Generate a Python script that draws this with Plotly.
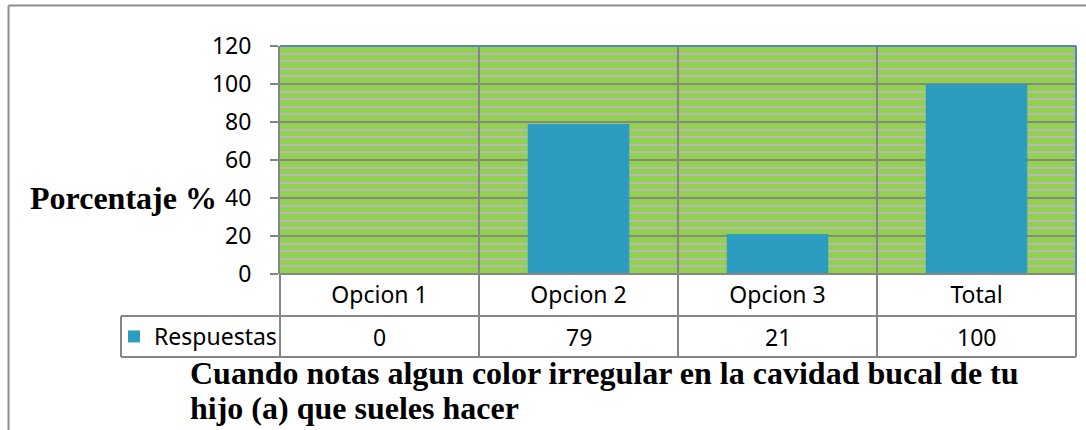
import plotly.graph_objects as go

categories = ["Opcion 1", "Opcion 2", "Opcion 3", "Total"]
values = [0, 79, 21, 100]
series_name = "Respuestas"
y_ticks = [0, 20, 40, 60, 80, 100, 120]
title_lines = ["Cuando notas algun color irregular en la cavidad bucal de tu",
               "hijo (a) que sueles hacer"]
y_title = "Porcentaje %"

W, H = 1086, 430
L, R, T, B = 280, 10, 46, 156
pw, ph = W - L - R, H - T - B

def px_x(px):
    return (px - L) / pw

def px_y(py):
    return (H - B - py) / ph

GRID = "#868686"
SANS = "Noto Sans, Open Sans, sans-serif"
SERIF = "Liberation Serif, Times New Roman, serif"

fig = go.Figure()
fig.add_trace(go.Bar(
    x=categories, y=values, name=series_name,
    marker=dict(color="#2d9cc1", line=dict(width=0)),
    width=0.51, showlegend=True,
))

n = len(categories)
shapes = []
for k in range(n + 1):
    shapes.append(dict(type="line", xref="paper", yref="paper",
                       x0=k / n, x1=k / n, y0=px_y(357), y1=0,
                       line=dict(color=GRID, width=2)))
for py in (316, 357):
    shapes.append(dict(type="line", xref="paper", yref="paper",
                       x0=px_x(121), x1=1, y0=px_y(py), y1=px_y(py),
                       line=dict(color=GRID, width=2)))
shapes.append(dict(type="line", xref="paper", yref="paper",
                   x0=px_x(121), x1=px_x(121), y0=px_y(316), y1=px_y(357),
                   line=dict(color=GRID, width=2)))
shapes.append(dict(type="line", xref="paper", yref="paper", x0=0, x1=1, y0=1, y1=1,
                   line=dict(color="#5b80be", width=2)))
shapes.append(dict(type="line", xref="paper", yref="paper", x0=1, x1=1, y0=0, y1=1,
                   line=dict(color="#5b80be", width=2)))
shapes.append(dict(type="line", xref="paper", yref="paper", x0=0, x1=1, y0=0, y1=0,
                   line=dict(color=GRID, width=2)))
shapes.append(dict(type="line", xref="paper", yref="paper",
                   x0=px_x(8.5), x1=px_x(8.5), y0=px_y(432), y1=px_y(5.5),
                   line=dict(color="#8c8c8c", width=2)))
shapes.append(dict(type="line", xref="paper", yref="paper",
                   x0=px_x(8.5), x1=px_x(1090), y0=px_y(5.5), y1=px_y(5.5),
                   line=dict(color="#8c8c8c", width=2)))

annotations = []
for c, v in zip(categories, values):
    annotations.append(dict(x=c, xref="x", y=px_y(336.5), yref="paper",
                            text=str(v), showarrow=False,
                            font=dict(family=SANS, size=23, color="black"),
                            xanchor="center", yanchor="middle"))
annotations.append(dict(x=px_x(219), xref="paper", y=40, yref="y",
                        text="<b>" + y_title + "</b>", showarrow=False,
                        font=dict(family=SERIF, size=32, color="black"),
                        xanchor="right", yanchor="middle"))
for line_text, cy in zip(title_lines, (373, 408)):
    annotations.append(dict(x=px_x(188), xref="paper", y=px_y(cy), yref="paper",
                            text="<b>" + line_text + "</b>",
                            showarrow=False, align="left",
                            font=dict(family=SERIF, size=32, color="black"),
                            xanchor="left", yanchor="middle"))

fig.update_layout(
    width=W, height=H,
    margin=dict(l=L, r=R, t=T, b=B, pad=0),
    paper_bgcolor="white", plot_bgcolor="#92d050",
    bargap=0.49,
    shapes=shapes, annotations=annotations,
    showlegend=True,
    legend=dict(x=px_x(114), xanchor="left", y=px_y(336.5), yanchor="middle",
                font=dict(family=SANS, size=23, color="black"),
                bgcolor="rgba(0,0,0,0)", borderwidth=0,
                itemwidth=30),
    xaxis=dict(type="category", tickson="boundaries", showgrid=True,
               gridcolor=GRID, gridwidth=2, ticks="", showline=False,
               tickfont=dict(family=SANS, size=23, color="black"),
               ticklabelstandoff=5, range=[-0.5, n - 0.5], zeroline=False),
    yaxis=dict(range=[0, 120], tickvals=y_ticks, ticktext=[str(t) for t in y_ticks],
               showgrid=True, gridcolor=GRID, gridwidth=2,
               minor=dict(dtick=4, showgrid=True, gridcolor="#b8b8b8", gridwidth=1.5),
               ticks="outside", ticklen=8, tickcolor=GRID, tickwidth=2,
               showline=True, linecolor=GRID, linewidth=2,
               tickfont=dict(family=SANS, size=23, color="black"),
               ticklabelstandoff=14, zeroline=False),
)

fig.write_html("out.html", config={"displayModeBar": False},
               post_script="document.body.style.margin='0';")
